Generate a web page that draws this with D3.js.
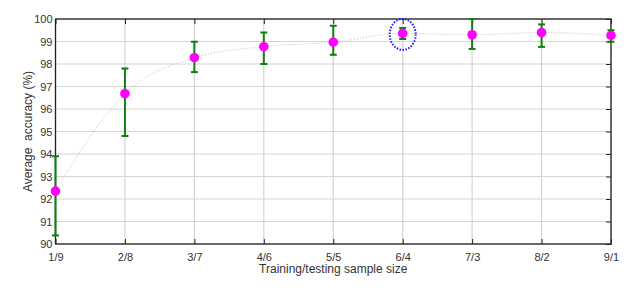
<!DOCTYPE html>
<html><head><meta charset="utf-8">
<script src="https://cdn.jsdelivr.net/npm/d3@7"></script>
<style>body{margin:0;background:#fff}svg{display:block}</style>
</head><body>
<script>
const categories = ["1/9","2/8","3/7","4/6","5/5","6/4","7/3","8/2","9/1"];
const meanAcc = [92.35, 96.68, 98.28, 98.77, 98.97, 99.36, 99.30, 99.40, 99.27];
const upperAcc = [93.9, 97.8, 98.99, 99.4, 99.7, 99.6, 100.0, 99.76, 99.5];
const lowerAcc = [90.38, 94.8, 97.64, 98.0, 98.41, 99.11, 98.67, 98.76, 98.99];
const yTicks = [90,91,92,93,94,95,96,97,98,99,100];
const highlighted = "6/4";

const W = 637, H = 294;
const m = {l:55.5, r:26, t:19, b:50};
const svg = d3.select("body").append("svg").attr("width", W).attr("height", H);
const x = d3.scalePoint().domain(categories).range([m.l, W - m.r]);
const y = d3.scaleLinear().domain([90,100]).range([H - m.b, m.t]);
const font = "Liberation Sans, Arial, sans-serif";

// grid
svg.append("g").selectAll("line").data(yTicks).join("line")
  .attr("x1", m.l).attr("x2", W - m.r).attr("y1", d => y(d)).attr("y2", d => y(d))
  .attr("stroke", "#d4d4d4").attr("stroke-width", 1.2);
svg.append("g").selectAll("line").data(categories).join("line")
  .attr("x1", d => x(d)).attr("x2", d => x(d)).attr("y1", m.t).attr("y2", H - m.b)
  .attr("stroke", "#d4d4d4").attr("stroke-width", 1.2);

// axes
const ax = (g) => { g.selectAll("text").attr("fill", "#333").style("font-family", font).style("font-size", "11px"); g.select(".domain").remove(); g.selectAll("line").attr("stroke", "#222"); };
svg.append("g").attr("transform", `translate(0,${H - m.b})`)
  .call(d3.axisBottom(x).tickSize(-5).tickPadding(9)).call(ax);
svg.append("g").attr("transform", `translate(0,${m.t})`)
  .call(d3.axisTop(x).tickSize(-5).tickFormat("")).call(ax);
svg.append("g").attr("transform", `translate(${m.l},0)`)
  .call(d3.axisLeft(y).tickValues(yTicks).tickSize(0).tickPadding(3).tickFormat(d3.format("d"))).call(ax);
svg.append("g").attr("transform", `translate(${W - m.r},0)`)
  .call(d3.axisRight(y).tickValues(yTicks).tickSize(-5).tickFormat("")).call(ax);
svg.append("rect").attr("x", m.l).attr("y", m.t).attr("width", W - m.r - m.l).attr("height", H - m.b - m.t)
  .attr("fill", "none").attr("stroke", "#222").attr("stroke-width", 1.3);

// trend line
svg.append("path").datum(categories.map((c,i) => [x(c), y(meanAcc[i])]))
  .attr("d", d3.line().curve(d3.curveMonotoneX))
  .attr("fill", "none").attr("stroke", "#bdbdbd").attr("stroke-width", 1).attr("stroke-dasharray", "1,2");

// error bars
const eb = svg.append("g").attr("stroke", "#0f7f0f").attr("stroke-width", 2);
categories.forEach((c,i) => {
  const cx = x(c);
  eb.append("line").attr("x1", cx).attr("x2", cx).attr("y1", y(upperAcc[i])).attr("y2", y(lowerAcc[i]));
  eb.append("line").attr("x1", cx - 3.5).attr("x2", cx + 3.5).attr("y1", y(upperAcc[i])).attr("y2", y(upperAcc[i]));
  eb.append("line").attr("x1", cx - 3.5).attr("x2", cx + 3.5).attr("y1", y(lowerAcc[i])).attr("y2", y(lowerAcc[i]));
});

// points
svg.append("g").selectAll("circle").data(categories).join("circle")
  .attr("cx", d => x(d)).attr("cy", (d,i) => y(meanAcc[i])).attr("r", 4.8).attr("fill", "#ff00ff");

// highlight ellipse
const hi = categories.indexOf(highlighted);
svg.append("ellipse").attr("cx", x(highlighted)).attr("cy", y(meanAcc[hi]) + 1).attr("rx", 13).attr("ry", 15.5)
  .attr("fill", "none").attr("stroke", "#1a1aff").attr("stroke-width", 2).attr("stroke-dasharray", "1.5,1.5");

// labels
svg.append("text").attr("x", (m.l + W - m.r) / 2).attr("y", 273).attr("text-anchor", "middle")
  .attr("fill", "#333").style("font-family", font).style("font-size", "12px").text("Training/testing sample size");
svg.append("text").attr("transform", `translate(32,${(m.t + H - m.b) / 2}) rotate(-90)`).attr("text-anchor", "middle")
  .attr("fill", "#333").style("font-family", font).style("font-size", "12px").text("Average  accuracy (%)").attr("xml:space","preserve");
</script>
</body></html>
